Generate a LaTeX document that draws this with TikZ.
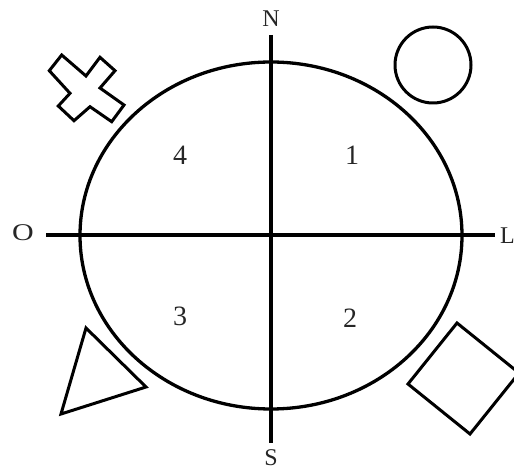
\documentclass[tikz,border=0pt]{standalone}
\usepackage{fontspec}
\setmainfont{Liberation Serif}
\usetikzlibrary{shapes.geometric}
\begin{document}
\begin{tikzpicture}[x=1pt,y=-1pt,
  ln/.style={line width=3.3pt,black},
  shp/.style={line width=3pt,black,line join=miter},
  lbl/.style={font=\fontsize{24}{24}\selectfont,text=black!85,inner sep=0pt},
  num/.style={font=\fontsize{28}{28}\selectfont,text=black!85,inner sep=0pt}]
\useasboundingbox (0,0) rectangle (514,470);
\coordinate (c) at (271,235.5);
\node[draw,ln,ellipse,minimum width=382pt,minimum height=347pt,inner sep=0pt] (e) at (c) {};
\coordinate (top) at (271,35);
\coordinate (bot) at (271,443);
\coordinate (lft) at (46,235);
\coordinate (rgt) at (495,235);
\draw[ln] (top) -- (bot);
\draw[ln] (lft) -- (rgt);
\node[lbl] (n) at (271,19) {N};
\node[lbl] (s) at (271,458) {S};
\node[lbl,xscale=1.25] (o) at (23,233) {O};
\node[lbl,anchor=west] (l) at (500,236) {L};
\node[num] (q4) at (180,155) {4};
\node[num] (q1) at (352,155) {1};
\node[num] (q3) at (180,316) {3};
\node[num] (q2) at (350,318) {2};
% circle
\node[draw,shp,circle,minimum size=76pt,inner sep=0pt] (circ) at (433,65) {};
% triangle
\draw[shp] (86,328) -- (146,387) -- (61,414) -- cycle;
% square
\draw[shp] (457,323) -- (408,384) -- (470,434) -- (519,373) -- cycle;
% cross
\draw[shp] (49.3,70.7) -- (61.7,55) -- (86,76) -- (100,57.3) -- (115,70.7) -- (100,88)
  -- (124,105) -- (111.7,121.7) -- (90,106.7) -- (74,120.7) -- (58.3,106) -- (70,93.3) -- cycle;
\end{tikzpicture}
\end{document}
